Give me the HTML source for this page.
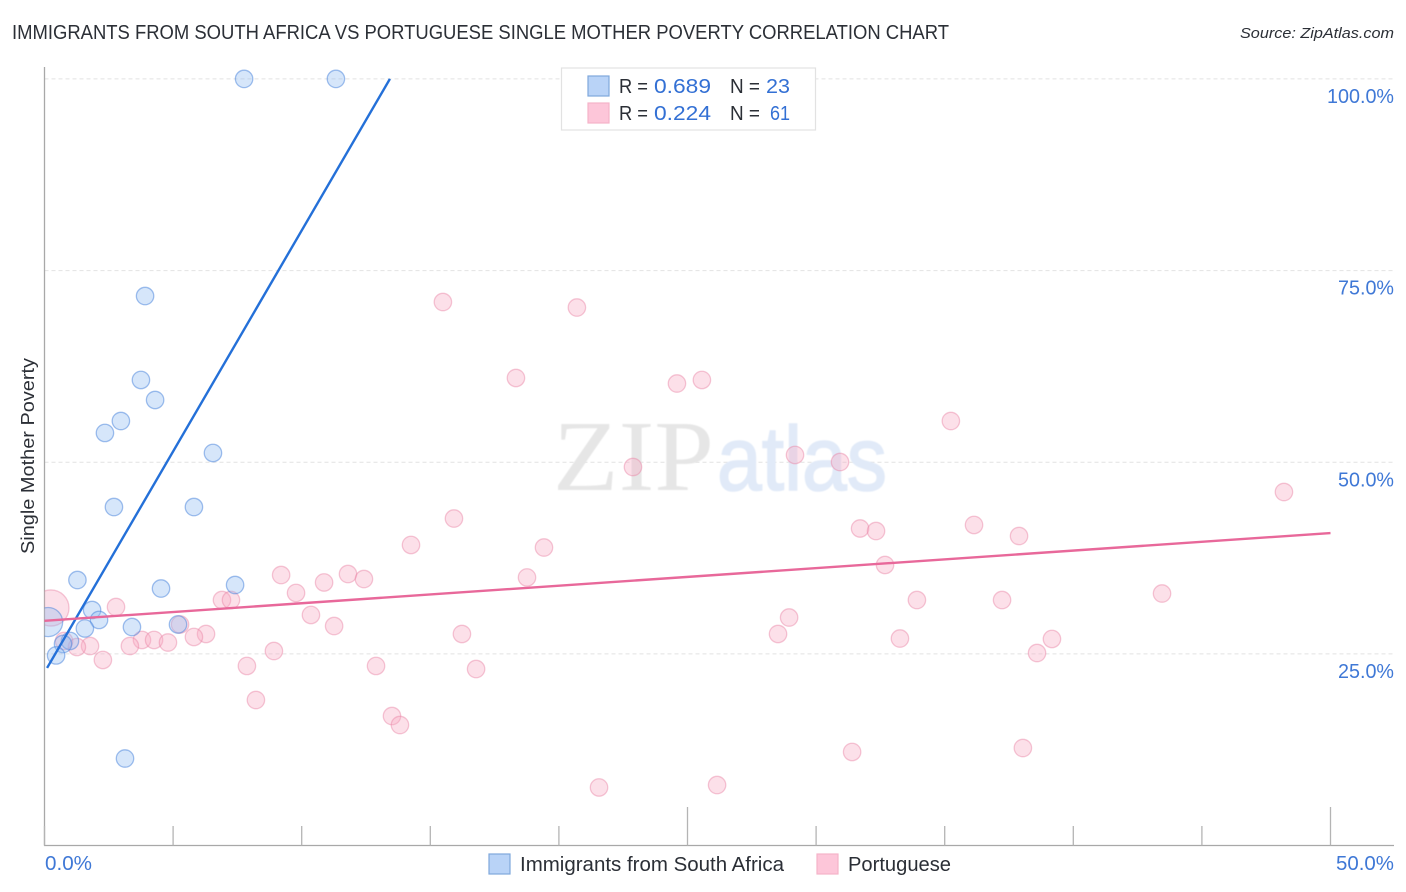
<!DOCTYPE html>
<html lang="en">
<head>
<meta charset="utf-8">
<title>Immigrants from South Africa vs Portuguese Single Mother Poverty Correlation Chart</title>
<style>
html,body{margin:0;padding:0;background:#fff;width:1406px;height:892px;overflow:hidden}
svg{display:block;font-family:"Liberation Sans",sans-serif}
</style>
</head>
<body>
<svg id="chart" width="1406" height="892" viewBox="0 0 1406 892" xmlns="http://www.w3.org/2000/svg">
  <defs>
    <clipPath id="plot-clip"><rect x="44.5" y="60" width="1350" height="786"/></clipPath>
    <filter id="soft" x="-5%" y="-5%" width="110%" height="110%"><feGaussianBlur stdDeviation="0.6"/></filter>
    <filter id="soft-points" x="-5%" y="-5%" width="110%" height="110%"><feGaussianBlur stdDeviation="0.35"/></filter>
  </defs>
  <text x="12" y="39" font-size="20" fill="#2b2f36" textLength="937" lengthAdjust="spacingAndGlyphs">IMMIGRANTS FROM SOUTH AFRICA VS PORTUGUESE SINGLE MOTHER POVERTY CORRELATION CHART</text>
  <text x="1394" y="38" font-size="15" font-style="italic" fill="#2b2f36" text-anchor="end" textLength="154" lengthAdjust="spacingAndGlyphs">Source: ZipAtlas.com</text>
  <g id="grid"></g>
  <g filter="url(#soft)">
    <text x="553" y="490" font-family="'Liberation Serif',serif" font-size="101" fill="#e6e6e6" textLength="161" lengthAdjust="spacingAndGlyphs">ZIP</text>
    <text x="717" y="490" font-size="91" fill="#e1eaf8" stroke="#e1eaf8" stroke-width="1.6" textLength="170" lengthAdjust="spacingAndGlyphs">atlas</text>
  </g>
  <g id="axes"></g>
  <g clip-path="url(#plot-clip)">
    <g id="points" filter="url(#soft-points)"></g>
  </g>
  <g id="trends"></g>
  <text transform="translate(34,456) rotate(-90)" font-size="18.5" fill="#2b2f36" text-anchor="middle" textLength="196" lengthAdjust="spacingAndGlyphs">Single Mother Poverty</text>
  <g id="tick-labels"></g>

  <g>
    <rect x="561.5" y="68" width="254" height="62" fill="#fff" stroke="#e2e2e2" stroke-width="1.2"/>
    <rect x="588" y="76" width="21" height="20" fill="#b9d3f7" stroke="#7fa8dc" stroke-width="1.2"/>
    <rect x="588" y="103" width="21" height="20" fill="#fdc6d9" stroke="#f5b3c9" stroke-width="1.2"/>
    <g font-size="20">
      <text x="619" y="93" fill="#2b2f36" textLength="29" lengthAdjust="spacingAndGlyphs">R =</text>
      <text x="654" y="93" fill="#3370d4" textLength="57" lengthAdjust="spacingAndGlyphs">0.689</text>
      <text x="730" y="93" fill="#2b2f36" textLength="30" lengthAdjust="spacingAndGlyphs">N =</text>
      <text x="766" y="93" fill="#3370d4" textLength="24" lengthAdjust="spacingAndGlyphs">23</text>
      <text x="619" y="120" fill="#2b2f36" textLength="29" lengthAdjust="spacingAndGlyphs">R =</text>
      <text x="654" y="120" fill="#3370d4" textLength="57" lengthAdjust="spacingAndGlyphs">0.224</text>
      <text x="730" y="120" fill="#2b2f36" textLength="30" lengthAdjust="spacingAndGlyphs">N =</text>
      <text x="770" y="120" fill="#3370d4" textLength="20" lengthAdjust="spacingAndGlyphs">61</text>
    </g>
  </g>

  <g>
    <rect x="489" y="854" width="21" height="20" fill="#b9d3f7" stroke="#7fa8dc" stroke-width="1.2"/>
    <text x="520" y="871" font-size="20" fill="#2b2f36" textLength="264" lengthAdjust="spacingAndGlyphs">Immigrants from South Africa</text>
    <rect x="817" y="854" width="21" height="20" fill="#fdc6d9" stroke="#f5b3c9" stroke-width="1.2"/>
    <text x="848" y="871" font-size="20" fill="#2b2f36" textLength="103" lengthAdjust="spacingAndGlyphs">Portuguese</text>
  </g>
</svg>
<script>
const yTickValues = [25, 50, 75, 100];
const yTickLabels = ["25.0%", "50.0%", "75.0%", "100.0%"];
const xTickValues = [0, 5, 10, 15, 20, 25, 30, 35, 40, 45, 50];
const xMajorTicks = [25, 50];
const xEndValues = [0, 50];
const xEndLabels = ["0.0%", "50.0%"];

const blueX = [7.76, 11.33, 3.91, 3.75, 4.30, 2.97, 2.35, 6.55, 2.70, 5.81, 1.28, 4.53, 7.41, 1.85, 2.12, 1.57, 3.40, 5.19, 0.14, 0.99, 0.72, 0.45, 3.13];
const blueY = [100, 100, 71.68, 60.73, 58.12, 55.38, 53.82, 51.21, 44.16, 44.16, 34.64, 33.53, 33.99, 30.73, 29.43, 28.32, 28.51, 28.84, 29.16, 26.69, 26.29, 24.80, 11.36];
const blueWeight = [1, 1, 1, 1, 1, 1, 1, 1, 1, 1, 1, 1, 1, 1, 1, 1, 1, 1, 2.8, 1, 1, 1, 1];

const pinkX = [15.49, 20.70, 18.33, 24.59, 25.56, 35.24, 22.88, 29.18, 30.93, 48.19, 15.92, 31.71, 32.33, 36.14, 37.89, 14.25, 19.42, 32.68, 9.20, 11.80, 12.42, 10.87, 18.76, 9.78, 43.45, 6.90, 7.25, 33.92, 37.23, 2.78, 10.36, 28.95, 11.26, 5.27, 16.23, 28.52, 6.28, 5.81, 33.26, 39.17, 3.79, 4.26, 4.80, 3.32, 1.77, 1.26, 0.76, 8.92, 38.59, 2.27, 7.87, 12.89, 16.78, 8.22, 13.51, 13.82, 31.40, 38.04, 26.15, 21.56, 0.25];
const pinkY = [70.90, 70.18, 60.99, 60.27, 60.73, 55.38, 49.38, 50.95, 50.03, 46.12, 42.66, 41.36, 41.03, 41.82, 40.38, 39.21, 38.88, 36.60, 35.29, 35.42, 34.77, 34.32, 34.97, 32.95, 32.88, 32.03, 32.03, 32.03, 32.03, 31.12, 30.08, 29.75, 28.64, 28.84, 27.60, 27.60, 27.60, 27.21, 27.01, 26.95, 26.82, 26.82, 26.49, 26.03, 26.03, 25.90, 26.69, 25.38, 25.12, 24.21, 23.43, 23.43, 23.03, 18.99, 16.90, 15.73, 12.21, 12.73, 7.90, 7.58, 30.99];
const pinkWeight = [1, 1, 1, 1, 1, 1, 1, 1, 1, 1, 1, 1, 1, 1, 1, 1, 1, 1, 1, 1, 1, 1, 1, 1, 1, 1, 1, 1, 1, 1, 1, 1, 1, 1, 1, 1, 1, 1, 1, 1, 1, 1, 1, 1, 1, 1, 1, 1, 1, 1, 1, 1, 1, 1, 1, 1, 1, 1, 1, 1, 4.3];

const blueTrendX = [0.10, 13.43];
const blueTrendY = [23.17, 100];
const pinkTrendX = [0, 50];
const pinkTrendY = [29.32, 40.77];

const NS = 'http://www.w3.org/2000/svg';
const xScale = v => 44.5 + v * 25.72;
const yScale = v => 845.6 - v * 7.667;
const radius = w => 8.7 * Math.sqrt(w);

function make(tag, attrs, parent, text) {
  const el = document.createElementNS(NS, tag);
  for (const k in attrs) el.setAttribute(k, attrs[k]);
  if (text !== undefined) el.textContent = text;
  parent.appendChild(el);
  return el;
}

const grid = document.getElementById('grid');
yTickValues.forEach(v => {
  const el = make('line', {x1: 44.5, x2: 1394, y1: yScale(v), y2: yScale(v), stroke: '#e2e2e2', 'stroke-width': 1, 'stroke-dasharray': '4 3'}, grid);
  
  
});

const axes = document.getElementById('axes');
const yAxisLine = make('line', {x1: 44.5, x2: 44.5, y1: 67, y2: 845.5, stroke: '#a8a8a8', 'stroke-width': 1.3}, axes);


const xAxisLine = make('line', {x1: 44, x2: 1394, y1: 845.5, y2: 845.5, stroke: '#a8a8a8', 'stroke-width': 1.3}, axes);


xTickValues.forEach(v => {
  const top = xMajorTicks.includes(v) ? 807 : 826;
  const el = make('line', {x1: xScale(v), x2: xScale(v), y1: top, y2: 845.5, stroke: '#b4b4b4', 'stroke-width': 1.3}, axes);
  
  
});

const labels = document.getElementById('tick-labels');
yTickValues.forEach((v, i) => {
  const el = make('text', {x: 1394, y: yScale(v) + 24, 'font-size': 20, fill: '#3f78d6', 'text-anchor': 'end', textLength: v === 100 ? 67 : 56, lengthAdjust: 'spacingAndGlyphs'}, labels, yTickLabels[i]);
  
  
});
xEndValues.forEach((v, i) => {
  const attrs = v === 0
    ? {x: 45, y: 870, 'font-size': 20, fill: '#3f78d6', textLength: 47, lengthAdjust: 'spacingAndGlyphs'}
    : {x: 1394, y: 870, 'font-size': 20, fill: '#3f78d6', 'text-anchor': 'end', textLength: 58, lengthAdjust: 'spacingAndGlyphs'};
  const el = make('text', attrs, labels, xEndLabels[i]);
  
  
});

const points = document.getElementById('points');
pinkX.forEach((x, i) => {
  const el = make('circle', {cx: xScale(x), cy: yScale(pinkY[i]), r: radius(pinkWeight[i]), fill: 'rgba(248,170,195,0.36)', stroke: 'rgba(232,130,165,0.45)', 'stroke-width': 1.3}, points);
  
  
});
blueX.forEach((x, i) => {
  const el = make('circle', {cx: xScale(x), cy: yScale(blueY[i]), r: radius(blueWeight[i]), fill: 'rgba(140,185,240,0.36)', stroke: 'rgba(70,130,220,0.5)', 'stroke-width': 1.3}, points);
  
  
});

const trends = document.getElementById('trends');
const blueTrend = make('line', {x1: xScale(blueTrendX[0]), y1: yScale(blueTrendY[0]), x2: xScale(blueTrendX[1]), y2: yScale(blueTrendY[1]), stroke: '#2470d8', 'stroke-width': 2.4}, trends);


const pinkTrend = make('line', {x1: xScale(pinkTrendX[0]), y1: yScale(pinkTrendY[0]), x2: xScale(pinkTrendX[1]), y2: yScale(pinkTrendY[1]), stroke: '#e8689a', 'stroke-width': 2.4}, trends);


</script>
</body>
</html>
